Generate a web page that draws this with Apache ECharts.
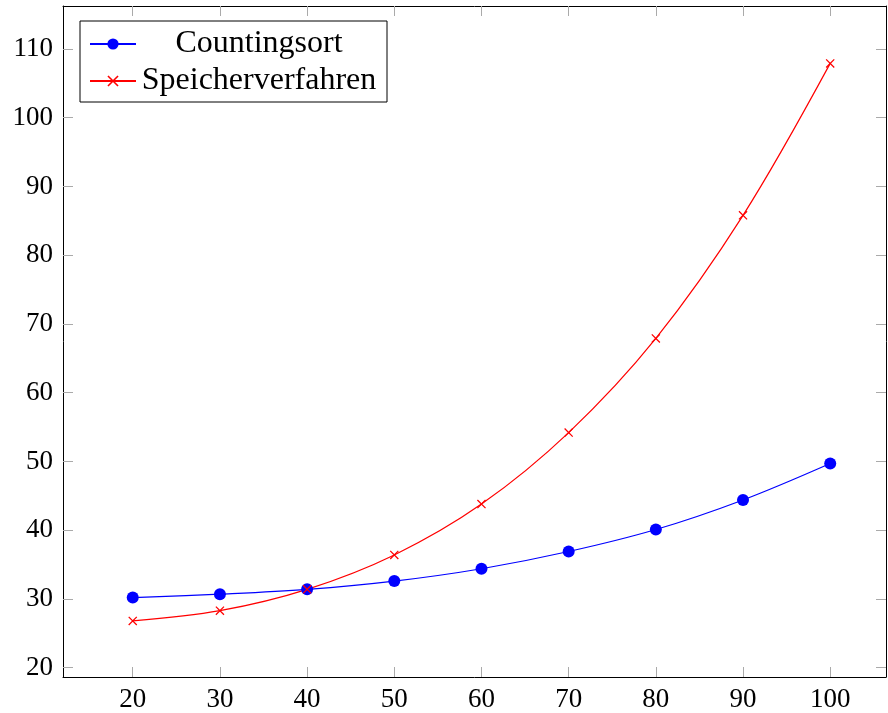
<!DOCTYPE html>
<html>
<head>
<meta charset="utf-8">
<script src="https://cdn.jsdelivr.net/npm/echarts@6/dist/echarts.min.js"></script>
<style>
  html, body { margin: 0; padding: 0; background: #fff; }
  #chart { width: 888px; height: 713px; }
</style>
</head>
<body>
<div id="chart"></div>
<script>
// values
const xValues = [20, 30, 40, 50, 60, 70, 80, 90, 100];
const countingsort = [30.2, 30.7, 31.4, 32.6, 34.4, 36.9, 40.1, 44.4, 49.7];
const speicherverfahren = [26.8, 28.3, 31.4, 36.4, 43.8, 54.2, 67.9, 85.8, 107.9];
const xTicks = [20, 30, 40, 50, 60, 70, 80, 90, 100];
const yTicks = [20, 30, 40, 50, 60, 70, 80, 90, 100, 110];

const font = 'Liberation Serif';
const tickColor = '#aaaaaa';
const crossPath = 'path://M0,1L1,0L10,9L9,10Z M9,0L10,1L1,10L0,9Z';

const pairs = (ys) => xValues.map((x, i) => [x, ys[i]]);

const chart = echarts.init(document.getElementById('chart'));

function xAxisDef(pos, showLabel) {
  return {
    type: 'value',
    position: pos,
    min: 12,
    max: 106.4,
    axisLine: { show: true, onZero: false, lineStyle: { color: '#000', width: 1 } },
    axisTick: { show: true, inside: true, length: 10, customValues: xTicks, lineStyle: { color: tickColor } },
    axisLabel: { show: showLabel, customValues: xTicks, margin: 9, color: '#000', fontFamily: font, fontSize: 27 },
    splitLine: { show: false }
  };
}

function yAxisDef(pos, showLabel) {
  return {
    type: 'value',
    position: pos,
    min: 18.65,
    max: 116.25,
    axisLine: { show: true, onZero: false, lineStyle: { color: '#000', width: 1 } },
    axisTick: { show: true, inside: true, length: 10, customValues: yTicks, lineStyle: { color: tickColor } },
    axisLabel: { show: showLabel, customValues: yTicks, margin: 10, color: '#000', fontFamily: font, fontSize: 27 },
    splitLine: { show: false }
  };
}

chart.setOption({
  animation: false,
  backgroundColor: '#fff',
  grid: { left: 63, right: 2, top: 6, bottom: 35 },
  xAxis: [xAxisDef('bottom', true), xAxisDef('top', false)],
  yAxis: [yAxisDef('left', true), yAxisDef('right', false)],
  legend: {
    left: 80,
    top: 21,
    orient: 'vertical',
    backgroundColor: '#fff',
    borderColor: '#000',
    borderWidth: 1,
    padding: [7, 10, 5, 9],
    itemGap: 5,
    itemWidth: 46,
    itemHeight: 14,
    formatter: (name) => '{a|' + name + '}',
    textStyle: {
      rich: {
        a: { width: 236, align: 'center', fontFamily: font, fontSize: 32, lineHeight: 37, color: '#000' }
      }
    },
    data: ['Countingsort', 'Speicherverfahren']
  },
  series: [
    {
      name: 'Countingsort',
      type: 'line',
      smooth: 0.35,
      data: pairs(countingsort),
      symbol: 'circle',
      symbolSize: 12,
      itemStyle: { color: '#0000ff' },
      lineStyle: { color: '#0000ff', width: 1.2 }
    },
    {
      name: 'Speicherverfahren',
      type: 'line',
      smooth: 0.35,
      data: pairs(speicherverfahren),
      symbol: crossPath,
      symbolSize: 9,
      itemStyle: { color: '#ff0000' },
      lineStyle: { color: '#ff0000', width: 1.2 }
    }
  ]
});
</script>
</body>
</html>
